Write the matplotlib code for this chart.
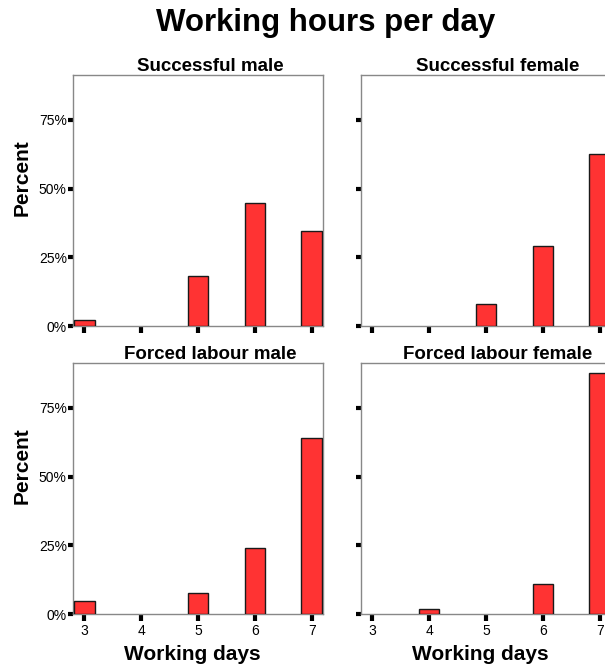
import matplotlib
matplotlib.use('Agg')
import matplotlib.pyplot as plt
from matplotlib.ticker import FuncFormatter

plt.rcParams['font.family'] = ['Liberation Sans', 'DejaVu Sans']

# data (percent of group)
days = [3, 4, 5, 6, 7]
successful_male = [2.3, 0, 18.2, 44.6, 34.4]
successful_female = [0, 0, 8.0, 29.1, 62.6]
forced_male = [4.6, 0, 7.5, 24.1, 64.1]
forced_female = [0, 1.7, 0, 11.0, 87.5]

panels = [
    ('Successful male', successful_male),
    ('Successful female', successful_female),
    ('Forced labour male', forced_male),
    ('Forced labour female', forced_female),
]
yticks = [0, 25, 50, 75]

W, H = 605, 668
fig = plt.figure(figsize=(W / 100, H / 100), dpi=100)

# axes boxes in pixels: left, top, width, height
boxes = [(73, 75, 250, 251), (361, 75, 250, 251),
         (73, 363, 250, 251), (361, 363, 250, 251)]

for i, ((name, vals), (l, t, w, h)) in enumerate(zip(panels, boxes)):
    ax = fig.add_axes([l / W, 1 - (t + h) / H, w / W, h / H])
    # empty categories get no bar at all
    xs = [d for d, v in zip(days, vals) if v > 0]
    ys = [v for v in vals if v > 0]
    ax.bar(xs, ys, width=0.36, color='#ff3333', edgecolor='#1a1a1a',
           linewidth=1.0, zorder=3)
    ax.set_xlim(2.8, 7.2)
    ax.set_ylim(0, 91.3)
    ax.set_xticks(days)
    ax.set_yticks(yticks)
    for s in ax.spines.values():
        s.set_color('#888888')
        s.set_linewidth(1.0)
    ax.tick_params(axis='x', length=5, width=3, color='black', labelsize=10, pad=2)
    ax.tick_params(axis='y', length=3.5, width=3, color='black', labelsize=10, pad=1)
    ax.set_title(name, fontsize=13.5, fontweight='bold', pad=3)
    ax.title.set_x(0.548)
    col = i % 2
    row = i // 2
    if col == 0:
        ax.yaxis.set_major_formatter(FuncFormatter(lambda v, p: '%d%%' % v))
        ax.set_ylabel('Percent', fontsize=15, fontweight='bold')
        ax.yaxis.set_label_coords(-0.165, 0.592)
    else:
        ax.set_yticklabels([])
    if row == 1:
        ax.set_xlabel('Working days', fontsize=15, fontweight='bold')
        ax.xaxis.set_label_coords(0.479, -0.122)
    else:
        ax.set_xticklabels([])

fig.text(326 / W, 1 - 31 / H, 'Working hours per day', fontsize=22.5,
         fontweight='bold', ha='center', va='baseline')

fig.savefig('out.png', dpi=100)
